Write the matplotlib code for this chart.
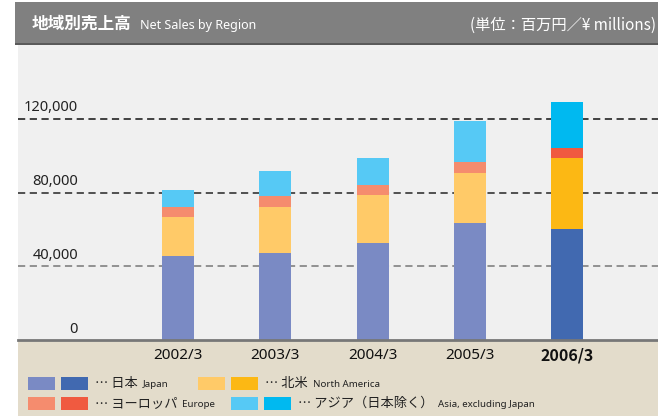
import matplotlib

matplotlib.use('Agg')

import matplotlib.pyplot as plt
from matplotlib.patches import Rectangle
import numpy as np

W, H = 658, 416

years = ['2002/3', '2003/3', '2004/3', '2005/3', '2006/3']
japan = [45400, 47000, 52400, 63200, 60000]
north_america = [21100, 24900, 26000, 27600, 38900]
europe = [5400, 6100, 5400, 5600, 5400]
asia = [9200, 13900, 15100, 22500, 24900]

y_ticks = [0, 40000, 80000, 120000]
y_labels = ['0', '40,000', '80,000', '120,000']

# light colour for past years, dark for the latest year
colors = {
    'japan': ('#7a8ac4', '#4169b0'),
    'na': ('#ffca68', '#fcb814'),
    'europe': ('#f58c6e', '#f05a40'),
    'asia': ('#56c9f5', '#00b9f0'),
}

LAT = ['Noto Sans', 'Noto Sans CJK JP', 'DejaVu Sans']
JP = ['Noto Sans CJK JP', 'DejaVu Sans']


def fx(px):
    return px / W


def fy(py):
    return 1 - py / H


def band(x0, y0, x1, y1, color, z=-1):
    fig.patches.append(Rectangle((fx(x0), fy(y1)), fx(x1) - fx(x0), fy(y0) - fy(y1),
                                 transform=fig.transFigure, facecolor=color,
                                 edgecolor='none', zorder=z))


fig = plt.figure(figsize=(W / 100, H / 100), dpi=100)
fig.patch.set_facecolor('white')

# header band, dark rule under it, beige band at the bottom
band(15, 2, W, 43, '#808080')
band(15, 43, W, 45, '#5a5a5a')
band(18, 341, W, H, '#e3dccb')

# plot area
ax = fig.add_axes([fx(18), fy(340), fx(W) - fx(18), fy(45) - fy(340)])
ax.set_facecolor('#f0f0f0')
for s in ax.spines.values():
    s.set_visible(False)

x = np.arange(len(years))
spacing = 97.25
ax.set_xlim(-(178 - 18) / spacing, 4 + (658 - 567) / spacing)
ax.set_ylim(0, 160000)

grid_colors = {40000: '#8a8a8a', 80000: '#444444', 120000: '#333333'}
for v, c in grid_colors.items():
    ax.axhline(v, color=c, lw=1.3, ls=(0, (4, 2.5)), zorder=1)
ax.axhline(0, color='#777777', lw=2, zorder=3, clip_on=False)

bw = 32 / spacing
bottom = np.zeros(len(years))
for key, vals in [('japan', japan), ('na', north_america), ('europe', europe), ('asia', asia)]:
    cols = [colors[key][0]] * (len(years) - 1) + [colors[key][1]]
    ax.bar(x, vals, bw, bottom=bottom, color=cols, zorder=2)
    bottom += np.array(vals)

ax.set_xticks([])
ax.set_yticks([])

# y labels sit just above their grid lines
for v, lab in zip(y_ticks, y_labels):
    ax.text(-(178 - 78) / spacing, v + 1800, lab, ha='right', va='bottom',
            fontsize=10.5, family=LAT, color='#222222')

for i, lab in enumerate(years):
    last = i == len(years) - 1
    ax.text(x[i], -8600, lab, ha='center', va='center',
            fontsize=11.5 if last else 11, family=JP if last else LAT,
            fontweight='bold' if last else 'normal', color='#111111', clip_on=False)

# header texts
fig.text(fx(32), fy(24), '地域別売上高', ha='left', va='center', fontsize=12,
         fontweight='bold', family=JP, color='white')
fig.text(fx(140), fy(25), 'Net Sales by Region', ha='left', va='center', fontsize=9,
         family=LAT, color='white')
fig.text(fx(656), fy(25), '(単位：百万円／¥ millions)', ha='right', va='center',
         fontsize=11, family=JP, color='white')

# legend
legend_items = [
    (28, 383.5, 'japan', '… 日本', 'Japan'),
    (198, 383.5, 'na', '… 北米', 'North America'),
    (28, 403.5, 'europe', '… ヨーロッパ', 'Europe'),
    (231, 403.5, 'asia', '… アジア（日本除く）', 'Asia, excluding Japan'),
]
for lx, ly, key, jp, en in legend_items:
    for k, c in enumerate(colors[key]):
        band(lx + k * 33, ly - 6.5, lx + k * 33 + 27, ly + 6.5, c, z=1)
    t = fig.text(fx(lx + 67), fy(ly), jp, ha='left', va='center', fontsize=9.5,
                 family=JP, color='#222222')
    fig.canvas.draw()
    bb = t.get_window_extent()
    fig.text(bb.x1 / W + 5 / W, fy(ly + 1), en, ha='left', va='center', fontsize=7,
             family=LAT, color='#222222')

fig.savefig('out.png', dpi=100)
